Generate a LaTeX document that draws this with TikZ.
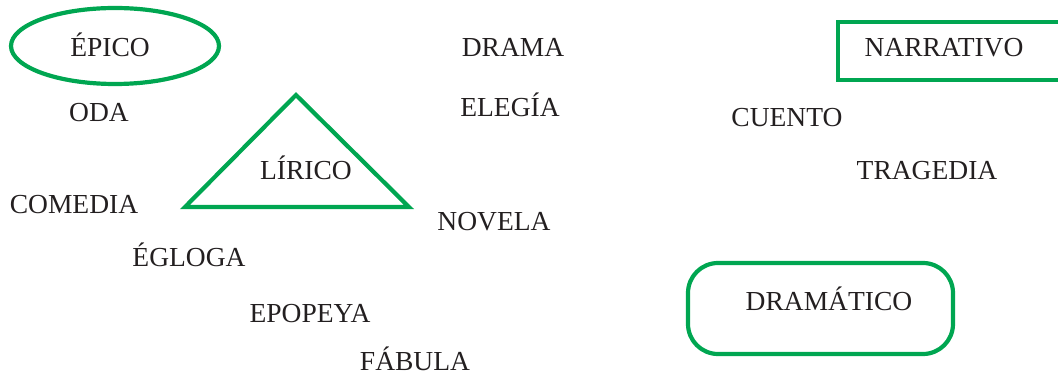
\documentclass[tikz,border=0pt]{standalone}
\usepackage{fontspec}
\setmainfont{Liberation Serif}
\usepackage{tikz}
\definecolor{verde}{RGB}{0,166,81}
\definecolor{tinta}{RGB}{35,31,32}
\tikzset{
  word/.style={anchor=base, inner sep=0pt, text=tinta, font=\fontsize{27.5}{33}\selectfont},
  marco/.style={draw=verde, line width=4.2pt}
}
\begin{document}
\begin{tikzpicture}[x=1pt, y=-1pt]
      \useasboundingbox (0, 0) rectangle (1058, 374);
      % palabras
      \node[word] (epico) at (110, 57) {ÉPICO};
      \node[word] (drama) at (513, 57) {DRAMA};
      \node[word] (narrativo) at (944, 57) {NARRATIVO};
      \node[word] (oda) at (99, 122) {ODA};
      \node[word] (elegia) at (510, 117) {ELEGÍA};
      \node[word] (cuento) at (787, 127) {CUENTO};
      \node[word] (lirico) at (306, 180) {LÍRICO};
      \node[word] (tragedia) at (927, 180) {TRAGEDIA};
      \node[word] (comedia) at (74, 214) {COMEDIA};
      \node[word] (novela) at (494, 231) {NOVELA};
      \node[word] (egloga) at (189, 267) {ÉGLOGA};
      \node[word] (dramatico) at (829, 310) {DRAMÁTICO};
      \node[word] (epopeya) at (310, 322) {EPOPEYA};
      \node[word] (fabula) at (415, 370) {FÁBULA};
      % marcas
      \draw[marco] (115, 46) ellipse (104 and 38);
      \draw[marco, line join=miter] (296, 95) -- (409, 207) -- (185, 207) -- cycle;
      \draw[marco] (1070, 22) -- (838, 22) -- (838, 80) -- (1070, 80);
      \draw[marco, rounded corners=30pt] (688, 263) rectangle (953, 354);
    \end{tikzpicture}
\end{document}
